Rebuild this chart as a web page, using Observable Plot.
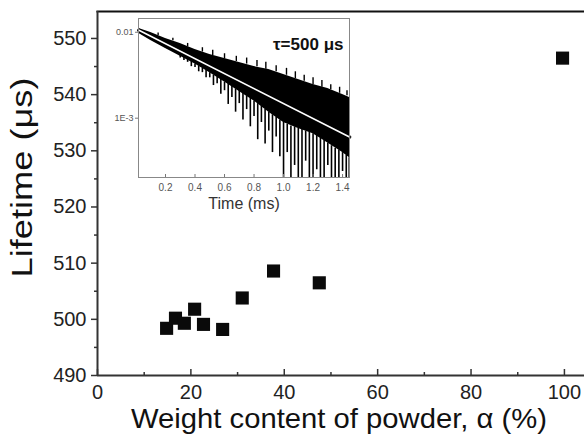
<!DOCTYPE html>
<html><head><meta charset="utf-8">
<script src="https://cdn.jsdelivr.net/npm/d3@7"></script>
<script src="https://cdn.jsdelivr.net/npm/@observablehq/plot@0.6"></script>
<style>
html,body{margin:0;padding:0;background:#fff;}
#wrap{position:relative;width:584px;height:442px;overflow:hidden;}
#inset{position:absolute;left:100px;top:14px;}
</style>
</head><body>
<div id="wrap"><div id="main"></div><div id="inset"></div></div>
<script>
// Main chart data
const alpha = [14.8, 16.7, 18.6, 20.8, 22.7, 26.8, 31.0, 37.7, 47.5, 99.6];
const lifetime = [498.4, 500.2, 499.3, 501.8, 499.1, 498.2, 503.8, 508.6, 506.5, 546.5];
const xTicks = [0, 20, 40, 60, 80, 100];
const xMinor = [10, 30, 50, 70, 90];
const yTicks = [490, 500, 510, 520, 530, 540, 550];
const yMinor = [495, 505, 515, 525, 535, 545];

// Inset data: decay signal (log10 intensity) envelope
const envT  = [0.02, 0.1, 0.2, 0.3, 0.4, 0.5, 0.6, 0.7, 0.8, 0.9, 1.0, 1.1, 1.2, 1.3, 1.4, 1.447];
const envHi = [-1.957, -2.003, -2.073, -2.131, -2.201, -2.259, -2.306, -2.352, -2.399, -2.434, -2.492, -2.550, -2.608, -2.655, -2.724, -2.759];
const envLo = [-2.015, -2.097, -2.190, -2.280, -2.370, -2.470, -2.580, -2.690, -2.800, -2.930, -3.050, -3.120, -3.180, -3.290, -3.400, -3.460];
// downward noise spikes
const downT    = [0.30, 0.325, 0.35, 0.375, 0.40, 0.425, 0.45, 0.475, 0.50, 0.525, 0.55, 0.575, 0.60, 0.625, 0.65, 0.675, 0.70, 0.725, 0.75, 0.775, 0.80, 0.825, 0.85, 0.875, 0.90, 0.925, 0.95, 0.975, 1.00, 1.025, 1.05, 1.075, 1.10, 1.125, 1.15, 1.175, 1.20, 1.225, 1.25, 1.275, 1.30, 1.325, 1.35, 1.375, 1.40, 1.425, 1.445];
const downBase = [-2.26, -2.28, -2.31, -2.34, -2.37, -2.39, -2.42, -2.44, -2.47, -2.50, -2.52, -2.55, -2.58, -2.60, -2.63, -2.66, -2.68, -2.71, -2.74, -2.77, -2.80, -2.83, -2.86, -2.90, -2.93, -2.96, -2.99, -3.02, -3.05, -3.07, -3.09, -3.10, -3.12, -3.13, -3.15, -3.16, -3.18, -3.20, -3.23, -3.26, -3.29, -3.32, -3.35, -3.37, -3.40, -3.43, -3.46];
const downTip  = [-2.30, -2.33, -2.35, -2.40, -2.41, -2.46, -2.47, -2.53, -2.53, -2.62, -2.60, -2.72, -2.68, -2.84, -2.76, -2.93, -2.83, -3.02, -2.90, -3.10, -2.98, -3.25, -3.05, -3.30, -3.15, -3.40, -3.22, -3.45, -3.69, -3.40, -3.69, -3.55, -3.69, -3.69, -3.50, -3.69, -3.69, -3.60, -3.69, -3.69, -3.55, -3.69, -3.69, -3.69, -3.62, -3.69, -3.69];
// upward noise spikes
const upT    = [0.15, 0.25, 0.35, 0.45, 0.52, 0.60, 0.68, 0.75, 0.82, 0.88, 0.95, 1.02, 1.08, 1.14, 1.20, 1.26, 1.32, 1.38, 1.43];
const upBase = [-2.04, -2.10, -2.17, -2.23, -2.27, -2.31, -2.34, -2.37, -2.40, -2.43, -2.46, -2.50, -2.54, -2.57, -2.61, -2.64, -2.67, -2.71, -2.74];
const upTip  = [-2.01, -2.07, -2.13, -2.18, -2.21, -2.25, -2.28, -2.30, -2.33, -2.35, -2.39, -2.42, -2.46, -2.50, -2.53, -2.56, -2.61, -2.64, -2.68];
// exponential fit, tau = 500 us (straight in log scale)
const fitT = [0.02, 1.447];
const fitY = [-1.977, -3.219];
const tTicks = [0.2, 0.4, 0.6, 0.8, 1.0, 1.2, 1.4];
const logTicks = [-2, -3];
const logLabels = ["0.01", "1E-3"];

const pts = alpha.map((a, i) => ({a, l: lifetime[i]}));
const font = "'Liberation Sans', Arial, Helvetica, sans-serif";

const main = Plot.plot({
  width: 584, height: 442,
  marginLeft: 97, marginTop: 11, marginBottom: 67, marginRight: 0,
  x: {domain: [0, 104.3]},
  y: {domain: [490, 554.8]},
  style: {fontFamily: font, background: "white", color: "#222"},
  marks: [
    Plot.frame({anchor: "top", stroke: "#111", strokeWidth: 2.2}),
    Plot.axisY({ticks: yTicks, tickSize: 6, tickPadding: 5, fontSize: 20, label: null, stroke: "#333", strokeWidth: 1.5}),
    Plot.axisY({ticks: yMinor, tickSize: 3, tickFormat: () => "", label: null, stroke: "#333", strokeWidth: 1.5}),
    Plot.axisX({ticks: xTicks, tickSize: 0, tickPadding: 9, fontSize: 20, label: null}),
    Plot.ruleX(xTicks, {insetTop: 358, stroke: "#333", strokeWidth: 1.5}),
    Plot.ruleX(xMinor, {insetTop: 361, stroke: "#333", strokeWidth: 1.5}),
    Plot.ruleX([0], {stroke: "#333", strokeWidth: 2}),
    Plot.ruleY([490], {stroke: "#333", strokeWidth: 2}),
    Plot.dot(pts, {x: "a", y: "l", symbol: "square", r: 7.4, fill: "#0a0a0a", stroke: "none"}),
    Plot.text(["Weight content of powder, \u03b1 (%)"], {frameAnchor: "bottom", dy: 52, fontSize: 28, fill: "#111", dx: -2}),
    Plot.text(["Lifetime (\u03bcs)"], {frameAnchor: "left", textAnchor: "middle", dx: -75, dy: -16, rotate: -90, fontSize: 29, fill: "#111"})
  ]
});
document.getElementById("main").appendChild(main);
// stretch the rotated y title and x title to the reference's lengths
d3.select(main).selectAll("text").filter(function() { return this.textContent === "Lifetime (\u03bcs)"; })
  .attr("textLength", 200).attr("lengthAdjust", "spacingAndGlyphs");
d3.select(main).selectAll("text").filter(function() { return this.textContent === "Weight content of powder, \u03b1 (%)"; })
  .attr("textLength", 416).attr("lengthAdjust", "spacingAndGlyphs");

const env = envT.map((t, i) => ({t, hi: envHi[i], lo: envLo[i]}));
const downs = downT.map((t, i) => ({t, b: downBase[i], tip: downTip[i]}));
const ups = upT.map((t, i) => ({t, b: upBase[i], tip: upTip[i]}));
const fit = fitT.map((t, i) => ({t, y: fitY[i]}));

const inset = Plot.plot({
  width: 260, height: 205,
  marginLeft: 38, marginTop: 4, marginRight: 11, marginBottom: 42,
  x: {domain: [0.017, 1.447]},
  y: {domain: [-3.69, -1.84]},
  style: {fontFamily: font, background: "white", color: "#444"},
  marks: [
    Plot.areaY(env, {x: "t", y1: "lo", y2: "hi", fill: "#000"}),
    Plot.ruleX(downs, {x: "t", y1: "b", y2: "tip", stroke: "#000", strokeWidth: 1.6}),
    Plot.ruleX(ups, {x: "t", y1: "b", y2: "tip", stroke: "#000", strokeWidth: 1.4}),
    Plot.line(fit, {x: "t", y: "y", stroke: "#000", strokeWidth: 3.6}),
    Plot.line(fit, {x: "t", y: "y", stroke: "#fff", strokeWidth: 1.6}),
    Plot.frame({stroke: "#888", strokeWidth: 1}),
    Plot.axisX({ticks: tTicks, tickSize: 0, tickPadding: 6, fontSize: 10, label: null, fill: "#555"}),
    Plot.ruleX(tTicks, {insetTop: 156, stroke: "#777"}),
    Plot.axisY({ticks: logTicks, tickSize: 3, tickPadding: 2, fontSize: 9, label: null, fill: "#555", stroke: "#777",
      tickFormat: d => logLabels[logTicks.indexOf(d)]}),
    Plot.text(["Time (ms)"], {frameAnchor: "bottom", dy: 31, fontSize: 16, fill: "#333"}),
    Plot.text(["\u03c4=500 \u03bcs"], {frameAnchor: "top-right", dx: -6, dy: 19, fontSize: 17, fontWeight: "bold", fill: "#111", textAnchor: "end"})
  ]
});
document.getElementById("inset").appendChild(inset);
</script>
</body></html>
